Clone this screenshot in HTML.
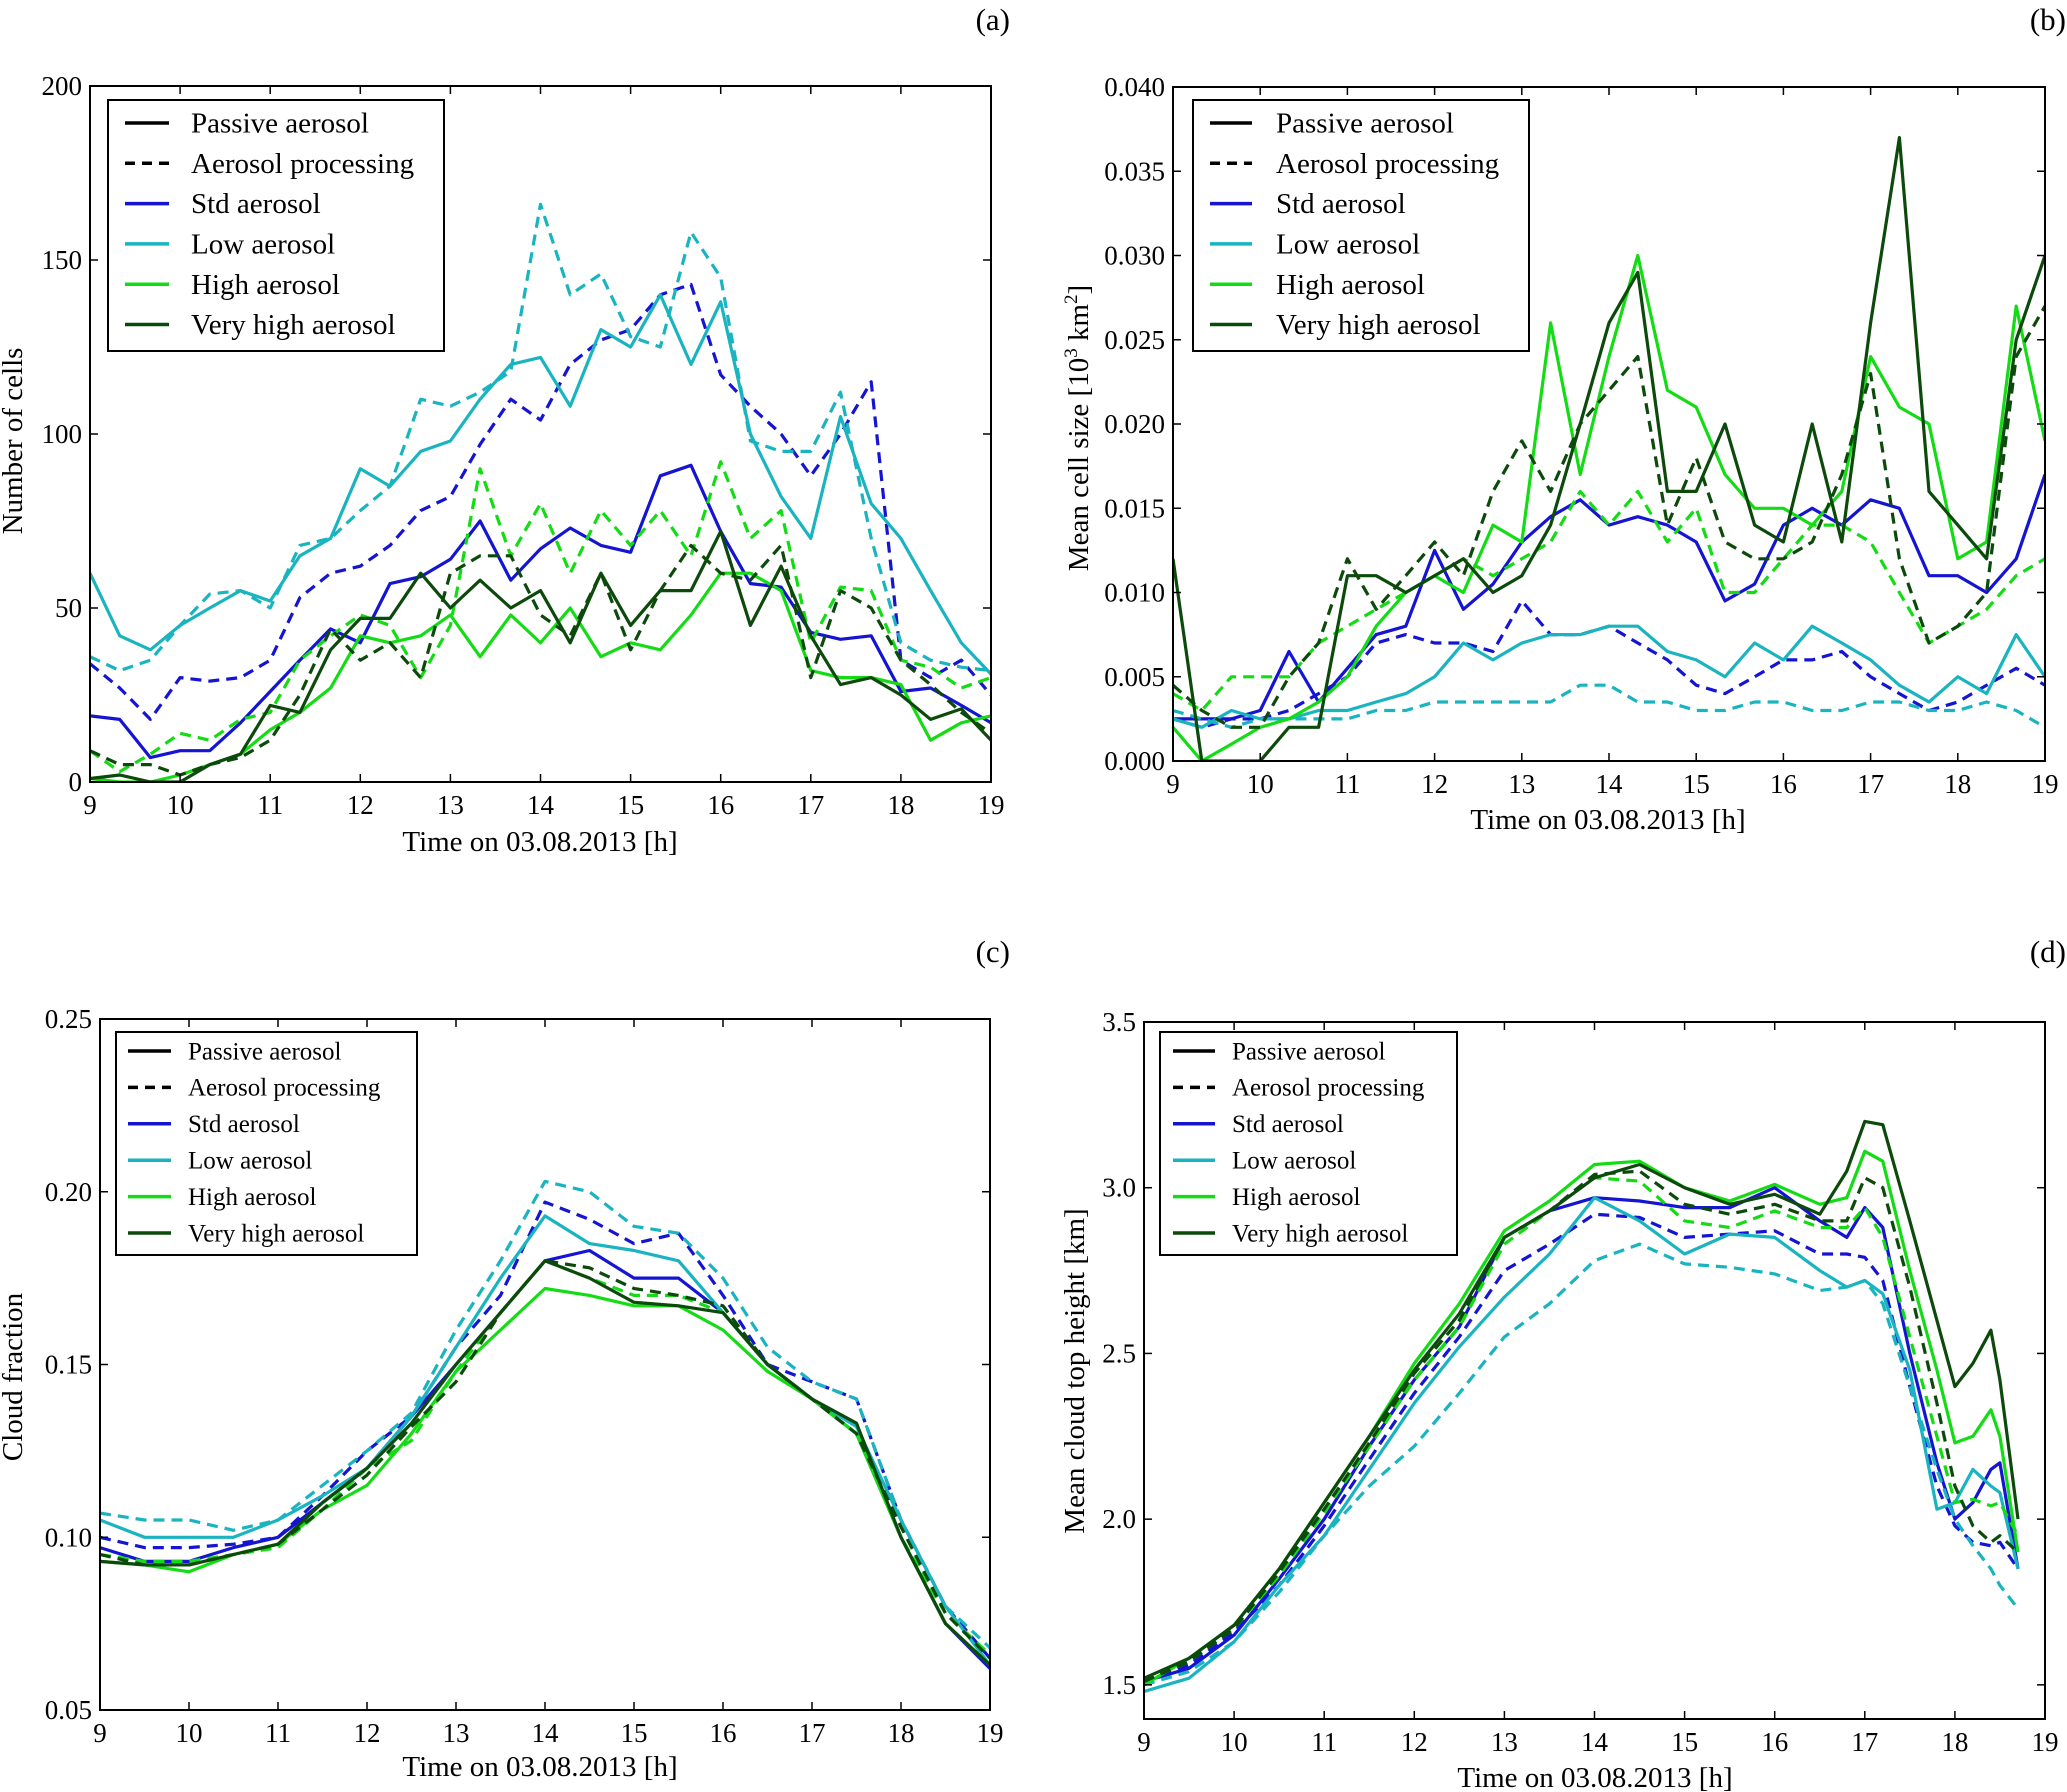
<!DOCTYPE html>
<html><head><meta charset="utf-8"><style>
body{margin:0;background:#fff}
svg{display:block;font-family:"Liberation Serif","DejaVu Serif",serif}
</style></head><body>
<svg id="fig" width="2067" height="1792" viewBox="0 0 2067 1792" xmlns="http://www.w3.org/2000/svg">
<rect width="2067" height="1792" fill="#fff"/>
</svg>
<script>
const COLORS={std:"#1414d2",low:"#19b4c0",high:"#14dc14",vhigh:"#0c4a0c"};
// Panel a: number of cells
const timesA=[9,9.33,9.67,10,10.33,10.67,11,11.33,11.67,12,12.33,12.67,13,13.33,13.67,14,14.33,14.67,15,15.33,15.67,16,16.33,16.67,17,17.33,17.67,18,18.33,18.67,19];
const aStdPassive=[19,18,7,9,9,17,26,35,44,40,57,59,64,75,58,67,73,68,66,88,91,72,57,56,43,41,42,26,27,22,17];
const aStdProc=[34,27,18,30,29,30,35,53,60,62,68,78,82,97,110,104,120,127,130,140,143,117,108,100,88,100,115,35,30,35,25];
const aLowPassive=[60,42,38,45,50,55,52,65,70,90,85,95,98,110,120,122,108,130,125,140,120,138,100,82,70,105,80,70,55,40,31];
const aLowProc=[36,32,35,45,54,55,50,68,70,78,85,110,108,112,118,166,140,146,128,125,158,145,98,95,95,112,70,40,35,33,32];
const aHighPassive=[1,0,0,2,5,8,15,20,27,42,40,42,48,36,48,40,50,36,40,38,48,60,60,55,32,30,30,28,12,17,19];
const aHighProc=[9,3,8,14,12,18,20,35,42,48,45,30,45,90,65,80,60,78,68,78,65,92,70,78,40,56,55,35,33,27,30];
const aVhighPassive=[1,2,0,0,5,8,22,20,38,47,47,60,50,58,50,55,40,60,45,55,55,72,45,62,42,28,30,25,18,21,12];
const aVhighProc=[9,5,5,2,5,7,12,25,44,35,40,30,60,65,65,48,42,60,38,55,68,60,58,68,30,55,50,35,28,20,14];
const aYTicks=[0,50,100,150,200];
// Panel b: mean cell size (1e-3 units)
const timesB=timesA;
const bStdPassive=[2.5,2.5,2.5,3,6.5,3.5,5.5,7.5,8,12.5,9,10.5,13,14.5,15.5,14,14.5,14,13,9.5,10.5,14,15,14,15.5,15,11,11,10,12,17];
const bStdProc=[2.5,2,2.5,2.5,3,4,5,7,7.5,7,7,6.5,9.5,7.5,7.5,8,7,6,4.5,4,5,6,6,6.5,5,4,3,3.5,4.5,5.5,4.5];
const bLowPassive=[2.5,2,3,2.5,2.5,3,3,3.5,4,5,7,6,7,7.5,7.5,8,8,6.5,6,5,7,6,8,7,6,4.5,3.5,5,4,7.5,5];
const bLowProc=[3,2.5,2,2.5,2.5,2.5,2.5,3,3,3.5,3.5,3.5,3.5,3.5,4.5,4.5,3.5,3.5,3,3,3.5,3.5,3,3,3.5,3.5,3,3,3.5,3,2];
const bHighPassive=[2,0,1,2,2.5,3.5,5,8,10,11,10,14,13,26,17,24,30,22,21,17,15,15,14,16,24,21,20,12,13,27,19];
const bHighProc=[4,3,5,5,5,7,8,9,10,11,12,11,12,13,16,14,16,13,15,10,10,12,14,14,13,10,7,8,9,11,12];
const bVhighPassive=[12,0,0,0,2,2,11,11,10,11,12,10,11,14,20,26,29,16,16,20,14,13,20,13,26,37,16,14,12,25,30];
const bVhighProc=[4.5,3,2,2,5,7,12,9,11,13,11,16,19,16,20,22,24,14,18,13,12,12,13,17,23,12,7,8,10,24,27];
const bYTicks=["0.000","0.005","0.010","0.015","0.020","0.025","0.030","0.035","0.040"];
// Panel c: cloud fraction
const timesC=[9,9.5,10,10.5,11,11.5,12,12.5,13,13.5,14,14.5,15,15.5,16,16.5,17,17.5,18,18.5,19];
const cStdPassive=[.097,.093,.093,.097,.100,.110,.120,.135,.150,.165,.180,.183,.175,.175,.165,.150,.140,.130,.100,.075,.062];
const cStdProc=[.100,.097,.097,.098,.100,.112,.125,.135,.155,.170,.197,.192,.185,.188,.170,.150,.145,.140,.105,.080,.065];
const cLowPassive=[.105,.100,.100,.100,.105,.112,.120,.135,.155,.175,.193,.185,.183,.180,.165,.150,.140,.132,.105,.080,.063];
const cLowProc=[.107,.105,.105,.102,.105,.115,.125,.136,.160,.180,.203,.200,.190,.188,.175,.155,.145,.140,.105,.080,.068];
const cHighPassive=[.093,.092,.090,.095,.098,.108,.115,.130,.148,.160,.172,.170,.167,.167,.160,.148,.140,.130,.100,.075,.063];
const cHighProc=[.095,.093,.093,.095,.097,.108,.120,.128,.148,.165,.180,.175,.170,.170,.165,.150,.140,.130,.100,.078,.066];
const cVhighPassive=[.093,.092,.092,.095,.098,.110,.120,.133,.150,.165,.180,.175,.168,.167,.165,.150,.140,.133,.100,.075,.063];
const cVhighProc=[.095,.092,.092,.095,.098,.108,.118,.132,.145,.165,.180,.178,.172,.170,.167,.150,.140,.130,.103,.078,.065];
const cYTicks=["0.05","0.10","0.15","0.20","0.25"];
// Panel d: mean cloud top height
const timesD=[9,9.5,10,10.5,11,11.5,12,12.5,13,13.5,14,14.5,15,15.5,16,16.5,16.8,17,17.2,17.5,17.8,18,18.2,18.4,18.5,18.7];
const dStdPassive=[1.51,1.55,1.65,1.82,2.00,2.22,2.42,2.58,2.85,2.93,2.97,2.96,2.94,2.94,3.00,2.90,2.85,2.94,2.88,2.50,2.17,2.00,2.05,2.15,2.17,1.85];
const dStdProc=[1.51,1.56,1.66,1.80,1.98,2.18,2.38,2.55,2.75,2.83,2.92,2.91,2.85,2.86,2.87,2.80,2.80,2.79,2.72,2.40,2.10,1.98,1.93,1.92,1.93,1.85];
const dLowPassive=[1.48,1.52,1.63,1.80,1.95,2.15,2.35,2.52,2.67,2.80,2.97,2.90,2.80,2.86,2.85,2.75,2.70,2.72,2.68,2.45,2.03,2.05,2.15,2.10,2.08,1.85];
const dLowProc=[1.50,1.54,1.63,1.78,1.95,2.10,2.22,2.38,2.55,2.65,2.78,2.83,2.77,2.76,2.74,2.69,2.70,2.72,2.65,2.40,2.15,2.00,1.92,1.85,1.80,1.73];
const dHighPassive=[1.50,1.58,1.68,1.85,2.05,2.25,2.47,2.65,2.87,2.96,3.07,3.08,3.00,2.96,3.01,2.95,2.97,3.11,3.08,2.75,2.45,2.23,2.25,2.33,2.25,1.90];
const dHighProc=[1.51,1.57,1.67,1.83,2.02,2.22,2.42,2.58,2.83,2.93,3.03,3.02,2.90,2.88,2.93,2.88,2.88,2.94,2.85,2.55,2.25,2.05,2.06,2.04,2.05,1.95];
const dVhighPassive=[1.52,1.58,1.68,1.85,2.05,2.25,2.45,2.62,2.85,2.93,3.03,3.07,3.00,2.95,2.98,2.92,3.05,3.20,3.19,2.90,2.60,2.40,2.47,2.57,2.42,2.00];
const dVhighProc=[1.51,1.57,1.67,1.84,2.03,2.23,2.44,2.60,2.85,2.93,3.04,3.05,2.95,2.92,2.95,2.90,2.90,3.03,3.00,2.70,2.35,2.10,1.98,1.93,1.95,1.90];
const dYTicks=["1.5","2.0","2.5","3.0","3.5"];
const xTicks=[9,10,11,12,13,14,15,16,17,18,19];

const NS="http://www.w3.org/2000/svg";
const svg=document.getElementById('fig');
function mk(tag,attrs,parent){const e=document.createElementNS(NS,tag);for(const k in attrs)e.setAttribute(k,attrs[k]);(parent||svg).appendChild(e);return e;}

function panel(cfg){
  const g=mk('g',{});
  
  
  const {L,R,T,B,xmin,xmax,ymin,ymax}=cfg;
  const sx=v=>L+(v-xmin)/(xmax-xmin)*(R-L);
  const sy=v=>B-(v-ymin)/(ymax-ymin)*(B-T);
  const order=[['std','Passive',false],['std','Proc',true],['low','Passive',false],['low','Proc',true],['high','Passive',false],['high','Proc',true],['vhigh','Passive',false],['vhigh','Proc',true]];
  const clip='clip-'+cfg.name;
  const cp=mk('clipPath',{id:clip},g);mk('rect',{x:L,y:T,width:R-L,height:B-T},cp);
  order.forEach(([k,kind,dash])=>{
    const ys=cfg.series[k+kind];
    const pts=ys.map((v,i)=>sx(cfg.times[i]).toFixed(1)+','+sy(v*cfg.scale).toFixed(1)).join(' ');
    const p=mk('polyline',{points:pts,fill:'none',stroke:COLORS[k],'stroke-width':3.2,'stroke-linejoin':'round','clip-path':'url(#'+clip+')'},g);
    if(dash)p.setAttribute('stroke-dasharray','11,7');
    
    
  });
  const frame=mk('rect',{x:L,y:T,width:R-L,height:B-T,fill:'none',stroke:'#000','stroke-width':2},g);
  
  
  xTicks.forEach(t=>{
    const x=sx(t);
    mk('line',{x1:x,y1:B,x2:x,y2:B-8,stroke:'#000','stroke-width':1.5},g);
    mk('line',{x1:x,y1:T,x2:x,y2:T+8,stroke:'#000','stroke-width':1.5},g);
    const tx=mk('text',{x:x,y:B+32,'font-size':27,'text-anchor':'middle'},g);
    tx.textContent=t;
    
    
  });
  cfg.yticks.forEach(t=>{
    const y=sy(parseFloat(t));
    mk('line',{x1:L,y1:y,x2:L+8,y2:y,stroke:'#000','stroke-width':1.5},g);
    mk('line',{x1:R,y1:y,x2:R-8,y2:y,stroke:'#000','stroke-width':1.5},g);
    const tx=mk('text',{x:L-8,y:y+9,'font-size':27,'text-anchor':'end'},g);
    tx.textContent=t;
    
    
  });
  const xl=mk('text',{x:cfg.xlx,y:cfg.xly,'font-size':29,'text-anchor':'middle'},g);
  xl.textContent='Time on 03.08.2013 [h]';
  
  
  const yl=mk('text',{x:0,y:0,'font-size':29,'text-anchor':'middle',transform:`translate(${cfg.ylx},${cfg.yly}) rotate(-90)`},g);
  yl.innerHTML=cfg.ylabel;
  
  
  const pl=mk('text',{x:cfg.plx,y:cfg.ply,'font-size':31,'text-anchor':'end'},g);
  pl.textContent=cfg.plabel;
  
  
  // legend
  const lg=cfg.leg;
  const lgG=mk('g',{},g);
  
  
  mk('rect',{x:lg.x,y:lg.y,width:lg.w,height:lg.h,fill:'#fff',stroke:'#000','stroke-width':2},lgG);
  const entries=[['Passive aerosol','#000',false],['Aerosol processing','#000',true],['Std aerosol',COLORS.std,false],['Low aerosol',COLORS.low,false],['High aerosol',COLORS.high,false],['Very high aerosol',COLORS.vhigh,false]];
  entries.forEach((e,i)=>{
    const y=lg.y0+i*lg.dy;
    const ln=mk('line',{x1:lg.sx1,y1:y,x2:lg.sx2,y2:y,stroke:e[1],'stroke-width':3.5},lgG);
    if(e[2])ln.setAttribute('stroke-dasharray','10,7');
    const tx=mk('text',{x:lg.tx,y:y+lg.fs*0.33,'font-size':lg.fs},lgG);
    tx.textContent=e[0];
    
    
  });
}

panel({name:'panel-a',L:90,R:991,T:86,B:782,xmin:9,xmax:19,ymin:0,ymax:200,scale:1,times:timesA,
  series:{stdPassive:aStdPassive,stdProc:aStdProc,lowPassive:aLowPassive,lowProc:aLowProc,highPassive:aHighPassive,highProc:aHighProc,vhighPassive:aVhighPassive,vhighProc:aVhighProc},
  yticks:aYTicks.map(String),xlx:540,xly:851,ylx:22,yly:441,ylabel:'Number of cells',plx:1010,ply:30,plabel:'(a)',
  leg:{x:108,y:100,w:336,h:251,y0:123,dy:40.3,sx1:125,sx2:169,tx:191,fs:29}});
panel({name:'panel-b',L:1173,R:2045,T:87,B:761,xmin:9,xmax:19,ymin:0,ymax:0.04,scale:0.001,times:timesB,
  series:{stdPassive:bStdPassive,stdProc:bStdProc,lowPassive:bLowPassive,lowProc:bLowProc,highPassive:bHighPassive,highProc:bHighProc,vhighPassive:bVhighPassive,vhighProc:bVhighProc},
  yticks:bYTicks,xlx:1608,xly:829,ylx:1088,yly:428,ylabel:'Mean cell size [10<tspan font-size="19" dy="-11">3</tspan><tspan dy="11"> km</tspan><tspan font-size="19" dy="-11">2</tspan><tspan dy="11">]</tspan>',plx:2066,ply:30,plabel:'(b)',
  leg:{x:1193,y:100,w:336,h:251,y0:123,dy:40.3,sx1:1210,sx2:1252,tx:1276,fs:29}});
panel({name:'panel-c',L:100,R:990,T:1019,B:1710,xmin:9,xmax:19,ymin:0.05,ymax:0.25,scale:1,times:timesC,
  series:{stdPassive:cStdPassive,stdProc:cStdProc,lowPassive:cLowPassive,lowProc:cLowProc,highPassive:cHighPassive,highProc:cHighProc,vhighPassive:cVhighPassive,vhighProc:cVhighProc},
  yticks:cYTicks,xlx:540,xly:1776,ylx:22,yly:1377,ylabel:'Cloud fraction',plx:1010,ply:962,plabel:'(c)',
  leg:{x:116,y:1032,w:301,h:223,y0:1051,dy:36.4,sx1:128,sx2:171,tx:188,fs:25}});
panel({name:'panel-d',L:1144,R:2045,T:1022,B:1719,xmin:9,xmax:19,ymin:1.397,ymax:3.5,scale:1,times:timesD,
  series:{stdPassive:dStdPassive,stdProc:dStdProc,lowPassive:dLowPassive,lowProc:dLowProc,highPassive:dHighPassive,highProc:dHighProc,vhighPassive:dVhighPassive,vhighProc:dVhighProc},
  yticks:dYTicks,xlx:1595,xly:1787,ylx:1084,yly:1371,ylabel:'Mean cloud top height [km]',plx:2066,ply:962,plabel:'(d)',
  leg:{x:1160,y:1032,w:297,h:223,y0:1051,dy:36.4,sx1:1173,sx2:1215,tx:1232,fs:25}});
</script>
</body></html>
